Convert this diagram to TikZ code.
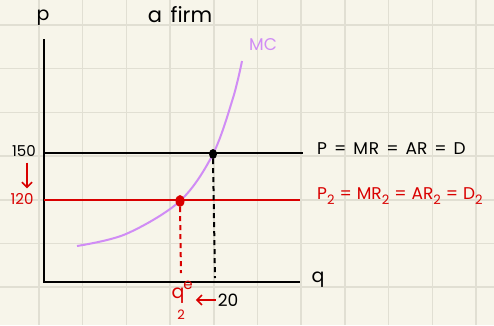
\documentclass[tikz,border=0pt]{standalone}
\usepackage{fontspec}
\setmainfont{Poppins}
\usetikzlibrary{arrows.meta,shapes.geometric}
\definecolor{paper}{HTML}{F7F5EA}
\definecolor{gridc}{HTML}{E1DFD3}
\definecolor{redc}{HTML}{D90000}
\definecolor{mcc}{HTML}{D08CF5}
\newcommand\lowidx[1]{\raisebox{-0.6ex}{\fontsize{13}{13}\selectfont #1}}
\newcommand\eqgap{\hspace{7pt}}
\newcommand\eqgapr{\hspace{5pt}}
\tikzset{
  gridline/.style={gridc, line width=1.5pt},
  axis/.style={black, line width=2pt},
  level/.style={line width=1.8pt},
  mccurve/.style={mcc, line width=2pt},
  dropline/.style={line width=2pt, dash pattern=on 5pt off 4pt},
  lbl/.style={inner sep=0pt, font=\fontsize{15}{15}\selectfont},
  biglbl/.style={inner sep=0pt, font=\fontsize{17}{17}\selectfont},
  dot/.style={ellipse, inner sep=0pt, minimum width=8pt, minimum height=10pt},
  harrow/.style={redc, line width=1.6pt, -{Straight Barb[length=5pt,width=10pt]}},
}
\begin{document}
\begin{tikzpicture}[x=1pt, y=-1pt]
\fill[paper] (0,0) rectangle (494,325);
\useasboundingbox (0,0) rectangle (494,325);
% grid
\foreach \i in {0,...,10} \draw[gridline] ({39+43.7*\i},0) -- ({39+43.7*\i},325);
\foreach \j in {0,...,6} \draw[gridline] (0,{25+43.7*\j}) -- (494,{25+43.7*\j});
% axes
\coordinate (ytop) at (44,39);
\coordinate (orig) at (44,282);
\coordinate (xend) at (300,282);
\draw[axis] (ytop) -- (orig) -- (xend);
\node[lbl, font=\fontsize{19}{19}\selectfont] (plab) at (43,18) {p};
\node[lbl, font=\fontsize{19}{19}\selectfont] (qlab) at (318,280) {q};
\node[lbl, font=\fontsize{21}{21}\selectfont] (title) at (180,15) {a\hspace{3pt} firm};
% price lines
\coordinate (b1) at (44,153);
\coordinate (b2) at (303,153);
\draw[level, black] (b1) -- (b2);
\coordinate (r1) at (44,200);
\coordinate (r2) at (300,200);
\draw[level, redc] (r1) -- (r2);
% MC
\draw[mccurve] plot[smooth, tension=0.55] coordinates {(77,246) (126,234) (180,201) (213,154) (233,98) (242,61)};
\node[lbl, text=mcc, font=\fontsize{17}{17}\selectfont] (mc) at (263,45) {MC};
% dots and drops
\node[dot, fill=black] (bd) at (213,154) {};
\node[dot, fill=redc, minimum width=9pt, minimum height=12pt] (rd) at (180,201) {};
\coordinate (bb) at (215,278);
\coordinate (rb) at (181,273);
\draw[dropline, black] (bd.south) -- (bb);
\draw[dropline, redc] (rd.south) -- (rb);
% left labels
\node[lbl] (p150) at (24,151) {150};
\node[lbl, text=redc] (p120) at (22,199) {120};
\draw[harrow] ([xshift=3pt,yshift=-6pt]p150.south) -- ([xshift=5pt,yshift=5pt]p120.north);
% right labels
\node[biglbl, anchor=west] (dlab) at (317,149) {P\eqgap=\eqgap M\hspace{1pt}R\eqgap=\eqgap AR\eqgap=\eqgap D};
\node[biglbl, anchor=west, text=redc] (d2lab) at (317,196) {P\lowidx{2}\eqgapr=\eqgapr MR\lowidx{2}\eqgapr=\eqgapr AR\lowidx{2}\eqgapr=\eqgapr D\lowidx{2}};
% bottom labels
\node[lbl, font=\fontsize{17}{17}\selectfont] (q20) at (228,300) {20};
\node[lbl, text=redc, font=\fontsize{19}{19}\selectfont] (qe) at (178,296) {q};
\node[lbl, text=redc, font=\fontsize{15}{15}\selectfont] (qsup) at (188,285) {e};
\node[lbl, text=redc, font=\fontsize{13}{13}\selectfont] (qsub) at (181,315) {2};
\draw[harrow] ([xshift=-2pt]q20.west) -- ([xshift=3pt]qsup.south east |- q20.west);
\end{tikzpicture}
\end{document}
